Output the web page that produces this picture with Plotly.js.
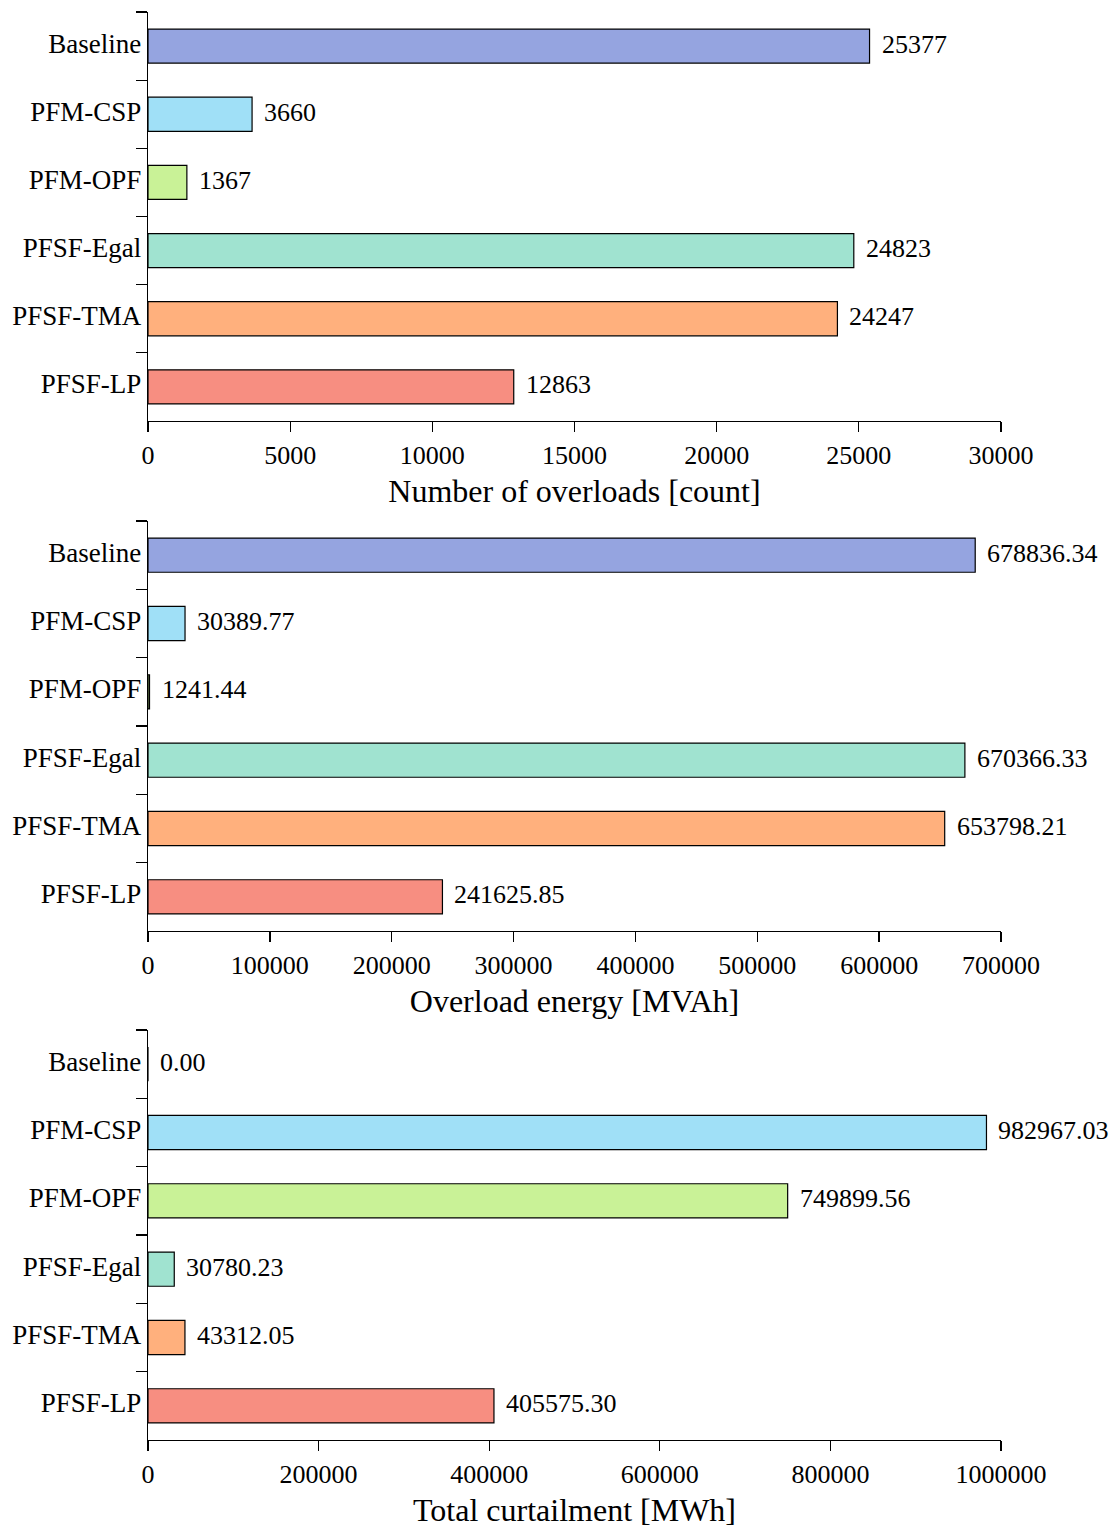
<!DOCTYPE html>
<html>
<head>
<meta charset="utf-8">
<script src="https://cdn.plot.ly/plotly-3.0.1.min.js"></script>
<style>
  html, body { margin: 0; padding: 0; background: #fff; }
  #chart { width: 1117px; height: 1528px; }
</style>
</head>
<body>
<div id="chart"></div>
<script>
// Scenario names and bar colours
const methods = ["Baseline", "PFM-CSP", "PFM-OPF", "PFSF-Egal", "PFSF-TMA", "PFSF-LP"];
const colors = ["#95a4e0", "#a0e0f7", "#c9f297", "#a0e3d0", "#ffb07d", "#f78e81"];

// Metrics per scenario
const overloadCount = [25377, 3660, 1367, 24823, 24247, 12863];
const overloadEnergy = [678836.34, 30389.77, 1241.44, 670366.33, 653798.21, 241625.85];
const curtailment = [0.00, 982967.03, 749899.56, 30780.23, 43312.05, 405575.30];

// Axis titles and ranges
const titles = ["Number of overloads [count]", "Overload energy [MVAh]", "Total curtailment [MWh]"];
const ranges = [[0, 30000], [0, 700000], [0, 1000000]];
const dticks = [5000, 100000, 200000];
const decimals = [0, 2, 2];
const series = [overloadCount, overloadEnergy, curtailment];

const FONT = "Liberation Serif, Times New Roman, serif";
const H = 1528;
// pixel extents (top, bottom) of each panel
const panels = [[12, 421], [521, 931], [1030, 1440]];

const data = [];
const annotations = [];
const layout = {
  width: 1117,
  height: H,
  margin: { l: 148, r: 116, t: 0, b: 0 },
  paper_bgcolor: "#fff",
  plot_bgcolor: "#fff",
  showlegend: false,
  bargap: 0.5,
  font: { family: FONT, size: 26, color: "#000" },
  annotations: annotations
};

series.forEach((vals, i) => {
  const n = i === 0 ? "" : String(i + 1);
  data.push({
    type: "bar",
    orientation: "h",
    x: vals,
    y: methods,
    xaxis: "x" + n,
    yaxis: "y" + n,
    marker: { color: colors, line: { color: "#000", width: 1.2 } },
    hoverinfo: "skip"
  });
  vals.forEach((v, j) => {
    annotations.push({
      x: v,
      y: methods[j],
      xref: "x" + n,
      yref: "y" + n,
      text: v.toFixed(decimals[i]),
      showarrow: false,
      xanchor: "left",
      yanchor: "middle",
      xshift: 10,
      yshift: 2,
      font: { family: FONT, size: 26, color: "#000" }
    });
  });
  const top = panels[i][0], bottom = panels[i][1];
  layout["xaxis" + n] = {
    anchor: "y" + n,
    domain: [0, 1],
    range: ranges[i],
    dtick: dticks[i],
    tick0: 0,
    ticks: "outside",
    ticklen: 10,
    tickwidth: 1.3,
    tickcolor: "#000",
    showline: true,
    linecolor: "#000",
    linewidth: 1.3,
    showgrid: false,
    zeroline: false,
    tickformat: "d",
    tickfont: { family: FONT, size: 26, color: "#000" },
    title: { text: titles[i], font: { family: FONT, size: 32, color: "#000" }, standoff: 11 }
  };
  layout["yaxis" + n] = {
    anchor: "x" + n,
    domain: [(H - bottom) / H, (H - top) / H],
    type: "category",
    autorange: "reversed",
    ticks: "outside",
    tickson: "boundaries",
    ticklen: 11,
    tickwidth: 1.3,
    tickcolor: "#000",
    showline: true,
    linecolor: "#000",
    linewidth: 1.3,
    showgrid: false,
    zeroline: false,
    ticklabelshift: 3,
    tickfont: { family: FONT, size: 27, color: "#000" }
  };
});

Plotly.newPlot("chart", data, layout, { displayModeBar: false, staticPlot: true });
</script>
</body>
</html>
